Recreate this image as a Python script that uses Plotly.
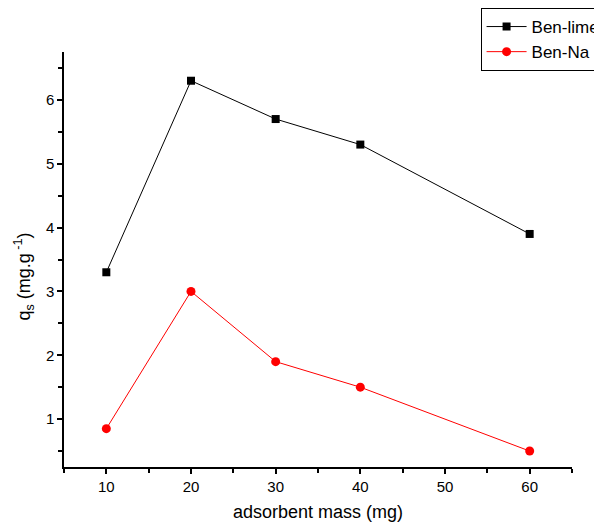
import plotly.graph_objects as go

mass = [10, 20, 30, 40, 60]
ben_lime = [3.3, 6.3, 5.7, 5.3, 3.9]
ben_na = [0.85, 3.0, 1.9, 1.5, 0.5]

FONT = "Liberation Sans, Arial, sans-serif"

fig = go.Figure()
fig.add_trace(go.Scatter(x=mass, y=ben_lime, mode="lines+markers", name="Ben-lime",
                         line=dict(color="black", width=1),
                         marker=dict(symbol="square", size=8, color="black")))
fig.add_trace(go.Scatter(x=mass, y=ben_na, mode="lines+markers", name="Ben-Na",
                         line=dict(color="red", width=1),
                         marker=dict(symbol="circle", size=9, color="red")))

axis_common = dict(showgrid=False, zeroline=False, showline=True, linecolor="black",
                   linewidth=1.5, ticks="outside", ticklen=5, tickwidth=1.5,
                   tickcolor="black", tickfont=dict(family=FONT, size=15, color="black"))
fig.update_xaxes(range=[5, 65], dtick=10, tick0=0,
                 minor=dict(dtick=5, ticks="outside", ticklen=4, tickwidth=1.5, tickcolor="black"),
                 title=dict(text="adsorbent mass (mg)", font=dict(family=FONT, size=18, color="black"), standoff=12),
                 **axis_common)
fig.update_yaxes(range=[0.25, 6.75], dtick=1, tick0=0,
                 minor=dict(dtick=0.5, ticks="outside", ticklen=4, tickwidth=1.5, tickcolor="black"),
                 **axis_common)
fig.add_annotation(text="q<sub>s</sub> (mg.g<sup> -1</sup>)", textangle=-90,
                   xref="paper", yref="paper", x=-0.08, y=0.46,
                   xanchor="center", yanchor="middle", showarrow=False,
                   font=dict(family=FONT, size=18, color="black"))
fig.update_layout(
    width=602, height=531,
    margin=dict(l=56, r=38, t=44, b=72, autoexpand=False),
    plot_bgcolor="white", paper_bgcolor="white",
    showlegend=True,
    legend=dict(xref="container", yref="container", x=0.785, y=1.01, xanchor="left", yanchor="top",
                bordercolor="black", borderwidth=1, bgcolor="white",
                font=dict(family=FONT, size=17, color="black"),
                tracegroupgap=0, itemwidth=40),
)
fig.write_html("out.html")
